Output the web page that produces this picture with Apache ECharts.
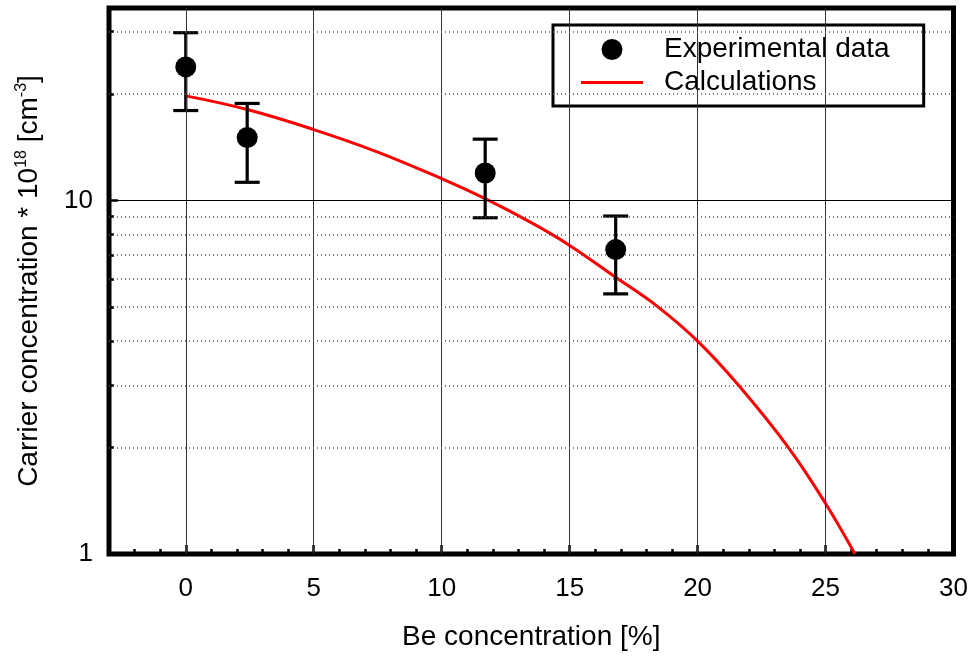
<!DOCTYPE html>
<html>
<head>
<meta charset="utf-8">
<script src="https://cdn.jsdelivr.net/npm/echarts@6/dist/echarts.min.js"></script>
<style>
html,body{margin:0;padding:0;background:#fff;}
#chart{width:972px;height:657px;}
</style>
</head>
<body>
<div id="chart"></div>
<script>
// ---- data ----
const expX = [0, 2.4, 11.7, 16.8];
const expY = [23.85, 15.05, 11.95, 7.26];
const expLow = [17.95, 11.25, 8.93, 5.44];
const expHigh = [29.8, 18.8, 14.9, 9.03];

const calcX = [0, 2.4, 5, 7.5, 10, 11.7, 13.5, 15, 16.8, 18.45, 20, 21.6, 23.55, 25, 26.15];
const calcY = [19.75, 18.07, 15.86, 13.7, 11.52, 10.11, 8.65, 7.46, 6.06, 5.0, 4.0, 3.0, 2.0, 1.39, 1.0];

const xMajorTicks = [0, 5, 10, 15, 20, 25, 30];
const xMinorTicks = [-2, -1, 1, 2, 3, 4, 6, 7, 8, 9, 11, 12, 13, 14, 16, 17, 18, 19, 21, 22, 23, 24, 26, 27, 28, 29];
const yMajorTicks = [1, 10];
const yMinorTicks = [2, 3, 4, 5, 6, 7, 8, 9, 20, 30];
const xGridLines = [0, 5, 10, 15, 20, 25];
const yMajorGrid = [10];
const yMinorGrid = [2, 3, 4, 5, 6, 7, 8, 9, 20, 30];

const FONT = 'Liberation Sans, Arial, Helvetica, sans-serif';
const FS = 26;
const FSN = 28;

const chart = echarts.init(document.getElementById('chart'), null, {renderer: 'canvas'});

const gridLineData = [];
xGridLines.forEach(v => gridLineData.push({xAxis: v, lineStyle: {color: '#333', width: 1, type: 'solid'}}));
yMajorGrid.forEach(v => gridLineData.push({yAxis: v, lineStyle: {color: '#000', width: 1, type: 'solid'}}));
yMinorGrid.forEach(v => gridLineData.push({yAxis: v, lineStyle: {color: '#555', width: 1.5, type: [1, 3]}}));

const option = {
  animation: false,
  backgroundColor: '#fff',
  textStyle: {fontFamily: FONT},
  grid: {
    left: 109, right: 18.5, top: 8, bottom: 103,
    show: true, borderColor: '#000', borderWidth: 5, backgroundColor: 'transparent'
  },
  legend: {
    data: [
      {name: 'Experimental data', icon: 'circle', itemStyle: {color: '#000', opacity: 1}},
      {name: 'Calculations', icon: 'path://M0,0 L62,0 L62,3 L0,3 Z', itemStyle: {color: '#ff0000'}}
    ],
    orient: 'vertical',
    left: 553, top: 25,
    padding: [8, 34, 7, 28],
    backgroundColor: '#fff',
    borderColor: '#000',
    borderWidth: 3,
    itemWidth: 62,
    itemHeight: 21,
    itemGap: 0,
    textStyle: {fontSize: FSN, color: '#000', fontFamily: FONT, lineHeight: 33, padding: [0, 0, 0, 16]}
  },
  xAxis: [{
    type: 'value', min: -3, max: 30,
    name: 'Be concentration [%]', nameLocation: 'middle', nameGap: 69,
    nameTextStyle: {fontSize: FSN, color: '#000', fontFamily: FONT},
    axisLine: {show: false, onZero: false},
    splitLine: {show: false},
    axisTick: {show: true, inside: true, length: 9, customValues: xMajorTicks, lineStyle: {color: '#000', width: 2.5}},
    axisLabel: {show: true, customValues: xMajorTicks, fontSize: FS, color: '#000', margin: 22, fontFamily: FONT}
  }, {
    type: 'value', min: -3, max: 30, position: 'bottom',
    axisLine: {show: false, onZero: false}, splitLine: {show: false},
    axisTick: {show: true, inside: true, length: 5, customValues: xMinorTicks, lineStyle: {color: '#000', width: 2.5}},
    axisLabel: {show: false}
  }],
  yAxis: [{
    type: 'log', logBase: 10, min: 1, max: 35,
    name: 'Carrier concentration * 10{sup|18} [cm{sup|-3}]',
    nameLocation: 'middle', nameGap: 64, nameRotate: 90,
    nameTextStyle: {
      fontSize: FSN, color: '#000', fontFamily: FONT,
      rich: {sup: {fontSize: 16, color: '#000', fontFamily: FONT, padding: [0, 0, 15, 0]}}
    },
    axisLine: {show: false, onZero: false},
    splitLine: {show: false},
    minorTick: {show: false}, minorSplitLine: {show: false},
    axisTick: {show: true, inside: true, length: 9, customValues: yMajorTicks, lineStyle: {color: '#000', width: 2.5}},
    axisLabel: {show: true, customValues: yMajorTicks, fontSize: FS, color: '#000', margin: 16, fontFamily: FONT}
  }, {
    type: 'log', logBase: 10, min: 1, max: 35, position: 'left',
    axisLine: {show: false, onZero: false}, splitLine: {show: false},
    minorTick: {show: false}, minorSplitLine: {show: false},
    axisTick: {show: true, inside: true, length: 5, customValues: yMinorTicks, lineStyle: {color: '#000', width: 2.5}},
    axisLabel: {show: false}
  }],
  series: [
    {
      name: 'grid', type: 'line', z: 1, silent: true,
      data: calcX.map((x, i) => [x, calcY[i]]),
      showSymbol: false, symbol: 'none',
      lineStyle: {opacity: 0},
      markLine: {silent: true, symbol: 'none', label: {show: false}, animation: false, data: gridLineData}
    },
    {
      name: 'Calculations', type: 'line', z: 3,
      data: calcX.map((x, i) => [x, calcY[i]]),
      showSymbol: false, symbol: 'none', smooth: 0.4,
      itemStyle: {color: '#ff0000'},
      lineStyle: {color: '#ff0000', width: 3}
    },
    {
      name: 'errors', type: 'custom', z: 4,
      data: expX.map((x, i) => [x, expLow[i], expHigh[i]]),
      encode: {x: 0, y: [1, 2]},
      renderItem: function (params, api) {
        const x = api.value(0);
        const pLo = api.coord([x, api.value(1)]);
        const pHi = api.coord([x, api.value(2)]);
        const hw = 12.5;
        const st = {stroke: '#000', lineWidth: 3.2};
        return {
          type: 'group',
          children: [
            {type: 'line', shape: {x1: pLo[0], y1: pLo[1], x2: pHi[0], y2: pHi[1]}, style: st},
            {type: 'line', shape: {x1: pLo[0] - hw, y1: pLo[1], x2: pLo[0] + hw, y2: pLo[1]}, style: st},
            {type: 'line', shape: {x1: pHi[0] - hw, y1: pHi[1], x2: pHi[0] + hw, y2: pHi[1]}, style: st}
          ]
        };
      }
    },
    {
      name: 'Experimental data', type: 'scatter', z: 5,
      data: expX.map((x, i) => [x, expY[i]]),
      symbol: 'circle', symbolSize: 21,
      itemStyle: {color: '#000', opacity: 1}
    }
  ]
};
chart.setOption(option);
</script>
</body>
</html>
